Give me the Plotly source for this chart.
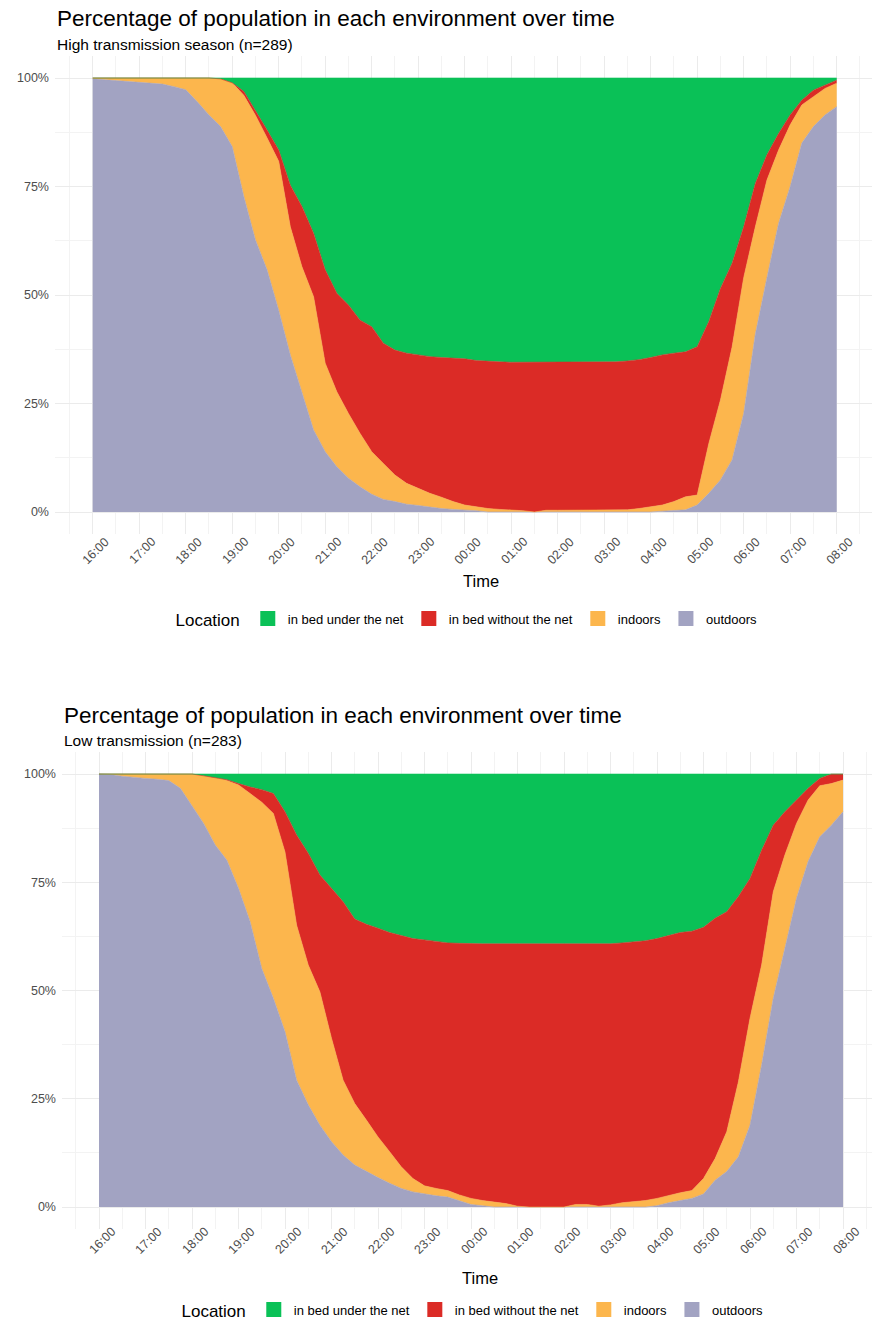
import plotly.graph_objects as go

W, H = 872, 1325

# time grid: 16:00 -> 08:00 next day, every 15 minutes (hours after midnight of day 1)
times = [16 + 0.25 * i for i in range(65)]
hour_ticks = list(range(16, 33))
tick_labels = ["16:00", "17:00", "18:00", "19:00", "20:00", "21:00", "22:00", "23:00",
               "00:00", "01:00", "02:00", "03:00", "04:00", "05:00", "06:00", "07:00", "08:00"]
y_ticks = [0, 25, 50, 75, 100]
y_tick_labels = ["0%", "25%", "50%", "75%", "100%"]

categories = ["in bed under the net", "in bed without the net", "indoors", "outdoors"]
colors = {"in bed under the net": "#0AC157", "in bed without the net": "#DB2B26",
          "indoors": "#FCB64D", "outdoors": "#A2A3C2"}

# ---------------- High transmission season (n=289), % of population ----------------
high_outdoors = [99.8, 99.6, 99.4, 99.2, 99.0, 98.9, 98.6, 98.0, 97.3, 94.5, 91.5, 88.8,
                 84.2, 72.7, 62.7, 55.8, 46.5, 36.2, 27.3, 18.9, 13.9, 10.4, 7.8, 5.8,
                 4.1, 2.9, 2.4, 1.8, 1.5, 1.1, 0.8, 0.6, 0.5, 0.3, 0.0, 0.0,
                 0.0, 0.0, 0.0, 0.0, 0.0, 0.0, 0.0, 0.0, 0.0, 0.0, 0.0, 0.0,
                 0.0, 0.2, 0.4, 0.5, 1.6, 4.3, 7.4, 12.0, 22.7, 41.0, 54.0, 66.5,
                 75.0, 85.0, 88.8, 91.5, 93.4]
high_indoors = [0.2, 0.4, 0.6, 0.8, 1.0, 1.1, 1.4, 2.0, 2.7, 5.5, 8.5, 11.0,
                14.7, 23.3, 28.7, 30.4, 34.3, 29.5, 29.2, 30.7, 20.4, 17.3, 14.9, 12.3,
                9.8, 8.3, 6.1, 4.8, 4.0, 3.2, 2.6, 1.8, 1.1, 0.9, 0.8, 0.6,
                0.5, 0.3, 0.0, 0.4, 0.4, 0.4, 0.4, 0.4, 0.4, 0.4, 0.5, 0.8,
                1.2, 1.4, 2.0, 3.0, 2.3, 11.5, 18.4, 26.0, 31.3, 24.7, 22.5, 16.9,
                14.2, 8.8, 6.9, 6.1, 5.4]
high_bed_no_net = [0, 0, 0, 0, 0, 0, 0, 0, 0, 0, 0, 0,
                   0, 0.9, 1.2, 1.8, 2.6, 9.6, 13.9, 14.6, 21.5, 22.7, 25.0, 26.1,
                   28.8, 27.7, 28.8, 30.0, 30.7, 31.5, 32.2, 33.0, 33.7, 33.7, 33.9, 34.0,
                   34.0, 34.2, 34.5, 34.1, 34.1, 34.1, 34.1, 34.1, 34.1, 34.2, 34.3, 34.3,
                   34.4, 34.6, 34.2, 33.4, 34.2, 28.1, 25.7, 19.3, 11.7, 10.0, 5.8, 3.8,
                   2.3, 1.1, 1.5, 0.8, 0.7]
high_bed_net = [0, 0, 0, 0, 0, 0, 0, 0, 0, 0, 0, 0.2,
                1.1, 3.1, 7.4, 12.0, 16.6, 24.7, 29.6, 35.8, 44.2, 49.6, 52.3, 55.8,
                57.3, 61.1, 62.7, 63.4, 63.8, 64.2, 64.4, 64.6, 64.7, 65.1, 65.3, 65.4,
                65.5, 65.5, 65.5, 65.5, 65.5, 65.5, 65.5, 65.5, 65.5, 65.4, 65.2, 64.9,
                64.4, 63.8, 63.4, 63.1, 61.9, 56.1, 48.5, 42.7, 34.3, 24.3, 17.7, 12.8,
                8.5, 5.1, 2.8, 1.6, 0.5]

# ---------------- Low transmission (n=283), % of population ----------------
low_outdoors = [100.0, 99.9, 99.5, 99.2, 99.0, 98.8, 98.5, 96.7, 92.8, 88.6, 83.6, 80.1,
                73.6, 65.9, 55.1, 48.2, 40.5, 29.3, 23.6, 18.9, 15.1, 12.0, 9.7, 8.2,
                6.8, 5.5, 4.3, 3.5, 3.0, 2.6, 2.3, 1.5, 0.6, 0.3, 0.0, 0.0,
                0.0, 0.0, 0.0, 0.0, 0.0, 0.0, 0.0, 0.0, 0.0, 0.0, 0.0, 0.0,
                0.3, 1.0, 1.5, 2.0, 3.0, 6.2, 8.2, 11.6, 18.9, 32.8, 48.2, 59.7,
                71.3, 79.8, 85.5, 88.2, 91.3]
low_indoors = [0.0, 0.1, 0.5, 0.8, 1.0, 1.2, 1.5, 3.3, 7.2, 11.0, 15.6, 18.4,
               23.9, 29.6, 38.4, 42.7, 41.5, 35.8, 32.3, 30.8, 23.9, 17.3, 14.2, 11.9,
               9.4, 7.3, 5.0, 3.1, 1.9, 1.7, 1.5, 1.3, 1.4, 1.2, 1.2, 0.8,
               0.2, 0.0, 0.0, 0.0, 0.0, 0.6, 0.6, 0.2, 0.5, 1.0, 1.2, 1.5,
               1.7, 1.7, 1.8, 1.8, 3.6, 5.0, 9.2, 17.3, 24.7, 23.1, 24.6, 21.6,
               17.3, 14.2, 11.8, 9.6, 7.3]
low_bed_no_net = [0, 0, 0, 0, 0, 0, 0, 0, 0, 0, 0, 0.2,
                  0.3, 1.5, 2.9, 4.6, 9.3, 20.8, 25.8, 27.0, 34.6, 41.2, 42.6, 45.2,
                  48.2, 50.6, 53.4, 55.4, 56.8, 57.1, 57.2, 58.1, 58.8, 59.3, 59.6, 60.0,
                  60.6, 60.8, 60.8, 60.8, 60.8, 60.2, 60.2, 60.6, 60.3, 60.0, 60.0, 60.0,
                  60.0, 60.0, 60.1, 59.9, 58.0, 55.5, 50.8, 42.8, 32.3, 26.5, 15.4, 10.0,
                  5.4, 2.7, 1.7, 2.2, 1.4]
low_bed_net = [0, 0, 0, 0, 0, 0, 0, 0, 0, 0.4, 0.8, 1.3,
               2.2, 3.0, 3.6, 4.5, 8.7, 14.1, 18.3, 23.3, 26.4, 29.5, 33.5, 34.7,
               35.6, 36.6, 37.3, 38.0, 38.3, 38.6, 39.0, 39.1, 39.2, 39.2, 39.2, 39.2,
               39.2, 39.2, 39.2, 39.2, 39.2, 39.2, 39.2, 39.2, 39.2, 39.0, 38.8, 38.5,
               38.0, 37.3, 36.6, 36.3, 35.4, 33.3, 31.8, 28.3, 24.1, 17.6, 11.8, 8.7,
               6.0, 3.3, 1.0, 0.0, 0.0]

panels = [
    dict(xa="x", ya="y", legend="legend", stack="high",
         series={"outdoors": high_outdoors, "indoors": high_indoors,
                 "in bed without the net": high_bed_no_net, "in bed under the net": high_bed_net},
         title="Percentage of population in each environment over time",
         subtitle="High transmission season (n=289)"),
    dict(xa="x2", ya="y2", legend="legend2", stack="low",
         series={"outdoors": low_outdoors, "indoors": low_indoors,
                 "in bed without the net": low_bed_no_net, "in bed under the net": low_bed_net},
         title="Percentage of population in each environment over time",
         subtitle="Low transmission (n=283)"),
]

FONT = "Liberation Sans, Arial, sans-serif"
fig = go.Figure()

for p in panels:
    # stacked areas: bottom (outdoors) to top (under the net)
    for cat in ["outdoors", "indoors", "in bed without the net", "in bed under the net"]:
        fig.add_trace(go.Scatter(
            x=times, y=p["series"][cat], xaxis=p["xa"], yaxis=p["ya"],
            stackgroup=p["stack"], mode="lines",
            line=dict(width=0.6, color=colors[cat], shape="linear"),
            fillcolor=colors[cat], showlegend=False, hoverinfo="skip", name=cat))
    # legend entries (square keys)
    for cat in categories:
        fig.add_trace(go.Scatter(
            x=[None], y=[None], xaxis=p["xa"], yaxis=p["ya"], mode="markers",
            marker=dict(symbol="square", size=15, color=colors[cat]),
            name=cat, legend=p["legend"], showlegend=True, hoverinfo="skip"))

# ---- geometry (pixels) ----
def ydom(top_px, bottom_px):
    return [1 - bottom_px / H, 1 - top_px / H]

px_per_h = 46.5
geo = [
    dict(left=55, x16=92.7, top=56.3, bottom=533.7),
    dict(left=62, x16=99.0, top=752.4, bottom=1228.7),
]

grid_major = "#EBEBEB"
grid_minor = "#F3F3F3"
minor_x = [h + 0.5 for h in range(15, 33)]
minor_y = [12.5, 37.5, 62.5, 87.5]

for i, g in enumerate(geo):
    sfx = "" if i == 0 else "2"
    r0 = 16 - (g["x16"] - g["left"]) / px_per_h
    r1 = r0 + (W - g["left"]) / px_per_h
    fig.layout["xaxis" + sfx] = dict(
        domain=[g["left"] / W, 1], range=[r0, r1], anchor="y" + sfx,
        tickmode="array", tickvals=hour_ticks, showticklabels=False, ticks="",
        showgrid=True, gridcolor=grid_major, gridwidth=1, zeroline=False, showline=False,
        minor=dict(tickvals=minor_x, showgrid=True, gridcolor=grid_minor, gridwidth=0.8),
        fixedrange=True)
    fig.layout["yaxis" + sfx] = dict(
        domain=ydom(g["top"], g["bottom"]), range=[-5, 105], anchor="x" + sfx,
        tickmode="array", tickvals=y_ticks, ticktext=y_tick_labels, ticks="",
        ticklabelstandoff=5,
        tickfont=dict(family=FONT, size=12.5, color="#4D4D4D"),
        showgrid=True, gridcolor=grid_major, gridwidth=1, zeroline=False, showline=False,
        minor=dict(tickvals=minor_y, showgrid=True, gridcolor=grid_minor, gridwidth=0.8),
        automargin=False, fixedrange=True)

annotations = []
title_pos = [(55, 18, 44), (62, 715, 740)]
tick_y = [551, 1241]
time_y = [581, 1278]
time_x = [24.35, 24.2]
for i, p in enumerate(panels):
    lx, ty, sy = title_pos[i]
    annotations.append(dict(text=p["title"], xref="paper", yref="paper", x=lx / W, y=1 - ty / H,
                            xanchor="left", yanchor="middle", showarrow=False,
                            font=dict(family=FONT, size=22.5, color="#000000")))
    annotations.append(dict(text=p["subtitle"], xref="paper", yref="paper", x=lx / W, y=1 - sy / H,
                            xanchor="left", yanchor="middle", showarrow=False,
                            font=dict(family=FONT, size=15.5, color="#000000")))
    for hv, lab in zip(hour_ticks, tick_labels):
        annotations.append(dict(text=lab, xref=p["xa"], yref="paper", x=hv, y=1 - tick_y[i] / H,
                                xanchor="center", yanchor="middle", showarrow=False, textangle=-45,
                                xshift=3, font=dict(family=FONT, size=12.5, color="#4D4D4D")))
    annotations.append(dict(text="Time", xref=p["xa"], yref="paper", x=time_x[i], y=1 - time_y[i] / H,
                            xanchor="center", yanchor="middle", showarrow=False,
                            font=dict(family=FONT, size=16.5, color="#000000")))

legend_common = dict(orientation="h", xanchor="center", yanchor="middle",
                     font=dict(family=FONT, size=13, color="#000000"),
                     bgcolor="rgba(0,0,0,0)", itemwidth=30, traceorder="normal",
                     itemclick=False, itemdoubleclick=False)
fig.update_layout(
    width=W, height=H, margin=dict(l=0, r=0, t=0, b=0, autoexpand=False),
    paper_bgcolor="white", plot_bgcolor="white",
    font=dict(family=FONT),
    annotations=annotations,
    legend=dict(x=468 / W, y=1 - 620 / H,
                title=dict(text="Location", side="left", font=dict(family=FONT, size=17, color="#000000")),
                **legend_common),
    legend2=dict(x=474 / W, y=1 - 1311 / H,
                 title=dict(text="Location", side="left", font=dict(family=FONT, size=17, color="#000000")),
                 **legend_common),
    hovermode=False,
)

fig.write_html("out.html", config={"displayModeBar": False},
               post_script="document.body.style.margin='0px';")
